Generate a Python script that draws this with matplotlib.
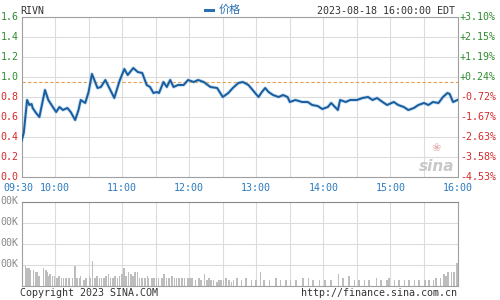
import matplotlib
matplotlib.use("Agg")
import matplotlib.pyplot as plt
import numpy as np

# price, minutes after 09:30
price_t = [0, 2, 5, 7, 9, 10, 13, 16, 21, 24, 28, 31, 34, 37, 41, 44, 48, 51, 53, 57,
           60, 63, 68, 71, 75, 83, 86, 88, 92, 95, 100, 104, 108, 112, 115, 118, 121, 123,
           127, 130, 133, 136, 140, 145, 149, 154, 158, 163, 169, 175, 180, 185, 189, 194,
           198, 203, 209, 212, 215, 218, 221, 225, 230, 234, 238, 240, 245, 251, 256, 260,
           265, 269, 274, 277, 283, 285, 290, 294, 300, 305, 310, 314, 318, 323, 327, 333,
           337, 342, 346, 351, 355, 360, 364, 368, 373, 377, 381, 383, 386, 390]
price_v = [0.36, 0.44, 0.77, 0.72, 0.73, 0.69, 0.64, 0.60, 0.87, 0.77, 0.70, 0.65, 0.70, 0.67,
           0.69, 0.65, 0.57, 0.67, 0.77, 0.74, 0.85, 1.03, 0.89, 0.90, 0.97, 0.79, 0.90, 0.97,
           1.08, 1.02, 1.09, 1.05, 1.04, 0.92, 0.90, 0.84, 0.85, 0.84, 0.95, 0.90, 0.97, 0.90,
           0.92, 0.92, 0.97, 0.95, 0.97, 0.95, 0.90, 0.89, 0.80, 0.84, 0.89, 0.94, 0.95, 0.92,
           0.84, 0.80, 0.85, 0.89, 0.85, 0.82, 0.80, 0.82, 0.80, 0.75, 0.77, 0.75, 0.75, 0.72,
           0.71, 0.68, 0.70, 0.74, 0.67, 0.77, 0.75, 0.77, 0.77, 0.79, 0.80, 0.77, 0.79, 0.75,
           0.72, 0.75, 0.72, 0.70, 0.67, 0.69, 0.72, 0.74, 0.72, 0.75, 0.74, 0.80, 0.84, 0.83,
           0.75, 0.77]
prev_close = 0.955

# volume (K), minutes after 09:30
vol_t = [0, 3, 4, 6, 7, 10, 12, 13, 15, 19, 21, 22, 24, 25, 27, 29, 31, 33, 35, 37, 39, 42,
         45, 47, 49, 51, 52, 55, 57, 60, 61, 63, 65, 67, 69, 71, 73, 75, 77, 79, 81, 83, 85,
         87, 89, 91, 93, 95, 97, 99, 101, 103, 105, 107, 110, 112, 113, 116, 118, 120, 122,
         125, 127, 129, 131, 134, 136, 138, 140, 143, 145, 148, 150, 152, 155, 158, 160, 163,
         165, 167, 169, 171, 174, 176, 178, 180, 182, 185, 187, 189, 192, 196, 200, 205, 209,
         213, 216, 221, 227, 231, 236, 240, 245, 251, 256, 260, 266, 271, 276, 283, 287, 292,
         297, 301, 306, 310, 317, 321, 326, 328, 333, 337, 342, 346, 351, 355, 360, 364, 368,
         370, 374, 377, 379, 381, 384, 386, 389]
vol_k = [495, 190, 171, 162, 143, 143, 124, 124, 95, 162, 143, 124, 95, 114, 95, 95, 76, 95,
         76, 67, 76, 67, 76, 181, 67, 76, 95, 48, 67, 95, 76, 238, 76, 95, 76, 76, 67, 95, 114,
         67, 76, 95, 76, 95, 114, 171, 95, 124, 114, 95, 124, 124, 67, 76, 76, 95, 67, 67, 76,
         67, 67, 76, 114, 67, 67, 95, 76, 67, 76, 67, 67, 67, 76, 67, 48, 67, 48, 105, 48, 67,
         48, 48, 38, 48, 48, 57, 67, 48, 38, 48, 67, 48, 76, 48, 57, 124, 57, 48, 76, 48, 57,
         48, 57, 76, 67, 48, 48, 57, 48, 105, 76, 86, 57, 48, 48, 57, 76, 48, 57, 67, 48, 57,
         48, 57, 48, 57, 48, 57, 48, 76, 67, 105, 86, 124, 133, 133, 219]

y_ticks = [1.6, 1.4, 1.2, 1.0, 0.8, 0.6, 0.4, 0.2, 0.0]
pct_labels = ["+3.10%", "+2.15%", "+1.19%", "+0.24%", "-0.72%", "-1.67%", "-2.63%", "-3.58%", "-4.53%"]
time_labels = ["09:30", "10:00", "11:00", "12:00", "13:00", "14:00", "15:00", "16:00"]
time_pos = [0, 30, 90, 150, 210, 270, 330, 390]

W, H = 500, 300
mono = "DejaVu Sans Mono"
fs = 7.2
green = "#2e8b2e"
red = "#d42a2a"
blue = "#2c7bbf"
grid_c = "#dcdcdc"
frame_c = "#a0a0a0"

def fx(px):
  return px / W

def fy(py):
  return 1 - py / H

fig = plt.figure(figsize=(5, 3), dpi=100)
fig.patch.set_facecolor("white")

L, R = 21.5, 457.5
ax = fig.add_axes([fx(L), fy(177), fx(R - L), (177 - 17) / H])
ax.set_xlim(0, 390)
ax.set_ylim(0, 1.6)
for x in range(30, 390, 30):
  ax.axvline(x, color=grid_c, lw=0.8, zorder=0)
for y in y_ticks[1:-1]:
  ax.axhline(y, color=grid_c, lw=0.8, zorder=0)
ax.axhline(prev_close, color="#e8a050", lw=0.8, ls=(0, (3, 2)), zorder=1)
ax.plot(price_t, price_v, color="#8cc0ea", lw=2.6, alpha=0.5, zorder=2, solid_joinstyle="round")
ax.plot(price_t, price_v, color="#1a5c9c", lw=1.4, zorder=3, solid_joinstyle="round")
ax.set_xticks([])
ax.set_yticks([])
for s in ax.spines.values():
  s.set_color(frame_c)
  s.set_linewidth(0.8)

# watermark
ax.text(355, 0.06, "sina", fontsize=11, style="italic", fontweight="bold",
        color="#c8c8c8", family="DejaVu Sans", zorder=1)
ax.text(367, 0.26, "\u2740", fontsize=8, color="#e8b8b8", family="DejaVu Sans", zorder=1)

# left and right labels
for i, (v, p) in enumerate(zip(y_ticks, pct_labels)):
  py = 17 + i * 20
  c = green if v > prev_close else red
  fig.text(fx(18.5), fy(py), f"{v:.1f}", color=c, fontsize=fs, family=mono,
           ha="right", va="center")
  c2 = green if p.startswith("+") else red
  fig.text(fx(460), fy(py), p, color=c2, fontsize=fs, family=mono,
           ha="left", va="center")

for t, lab in zip(time_pos, time_labels):
  px = L + t * (R - L) / 390
  if t == 0:
    px -= 3
  fig.text(fx(px), fy(188), lab, color=blue, fontsize=fs, family=mono,
           ha="center", va="center")

# header
fig.text(fx(20), fy(11), "RIVN", color="#333333", fontsize=fs, family=mono, va="center")
fig.lines.append(plt.Line2D([fx(205), fx(213)], [fy(10), fy(10)], transform=fig.transFigure,
                            color="#2a6fb0", lw=2.2))
fig.text(fx(219), fy(10), "价格", color="#2a6fb0", fontsize=fs + 0.8,
         family=["Noto Sans CJK SC", mono], va="center")
fig.text(fx(455), fy(11), "2023-08-18 16:00:00 EDT", color="#333333", fontsize=fs,
         family=mono, ha="right", va="center")

# volume panel
vax = fig.add_axes([fx(L), fy(285.5), fx(R - L), (285.5 - 201.5) / H])
vax.set_xlim(0, 390)
vax.set_ylim(0, 800)
for x in range(30, 390, 30):
  vax.axvline(x, color=grid_c, lw=0.8, zorder=0)
for y in [200, 400, 600]:
  vax.axhline(y, color=grid_c, lw=0.8, zorder=0)
vax.bar(vol_t, vol_k, width=1.4, color="#bdbdbd", align="edge", zorder=2)
vax.set_xticks([])
vax.set_yticks([])
for s in vax.spines.values():
  s.set_color(frame_c)
  s.set_linewidth(0.8)
vax.spines["top"].set_color("#888888")

for i in range(4):
  fig.text(fx(18.5), fy(201 + i * 21), "00K", color="#888888", fontsize=fs,
           family=mono, ha="right", va="center")

fig.text(fx(20), fy(293), "Copyright 2023 SINA.COM", color="#333333", fontsize=fs,
         family=mono, va="center")
fig.text(fx(457), fy(293), "http://finance.sina.com.cn", color="#333333", fontsize=fs,
         family=mono, ha="right", va="center")

fig.savefig("out.png", dpi=100)
